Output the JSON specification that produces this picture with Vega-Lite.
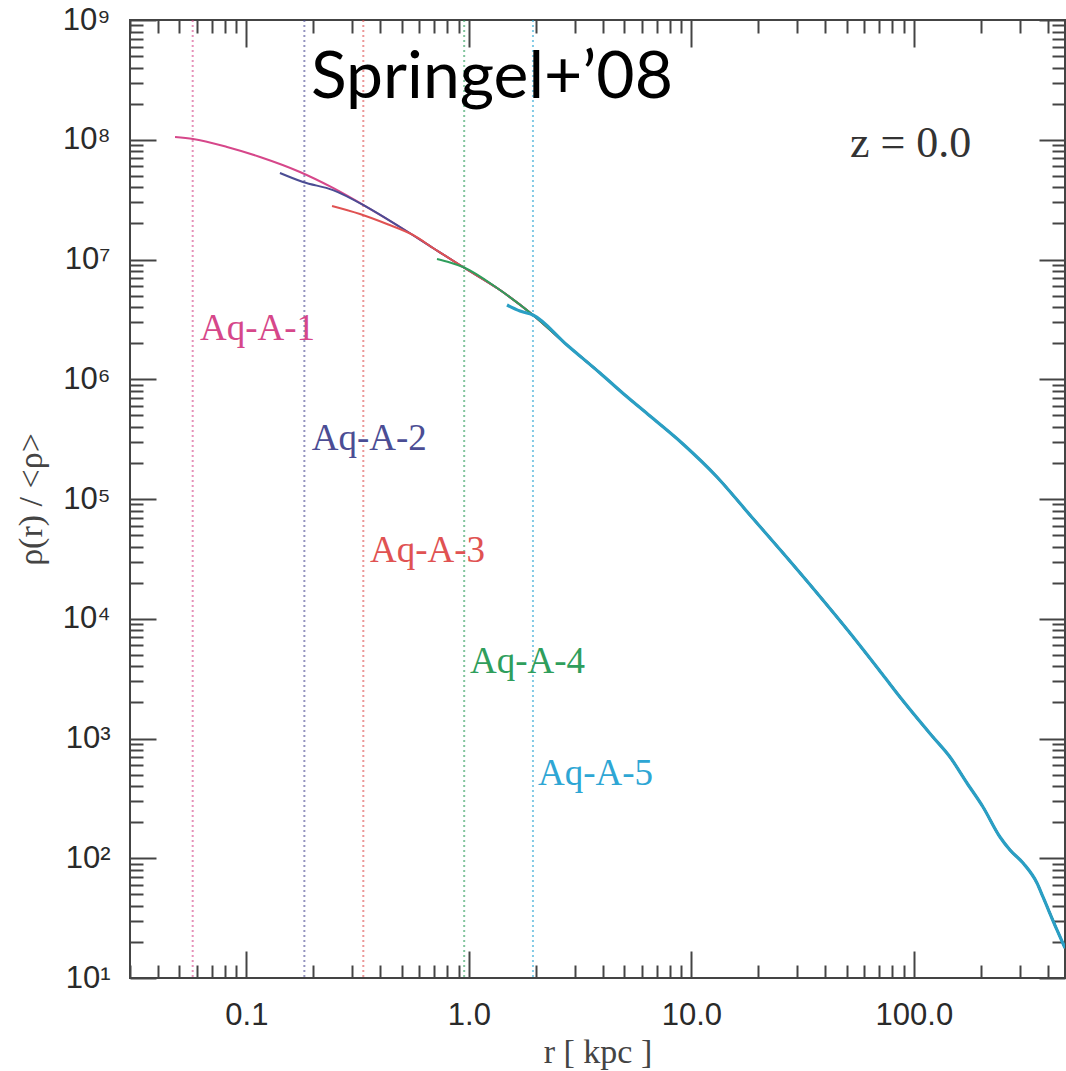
{
  "$schema": "https://vega.github.io/schema/vega-lite/v6.json",
  "width": 935,
  "height": 958,
  "autosize": {"type": "none"},
  "padding": {"left": 130, "top": 20, "right": 1, "bottom": 93},
  "background": "white",
  "config": {"view": {"stroke": "#444", "strokeWidth": 2}},
  "datasets": {
    "profiles": [
      {"series":"Aq-A-1","r":0.0478,"rho":1.054e8},{"series":"Aq-A-1","r":0.0576,"rho":1.015e8},{"series":"Aq-A-1","r":0.0819,"rho":8.70e7},{"series":"Aq-A-1","r":0.1152,"rho":7.18e7},{"series":"Aq-A-1","r":0.1742,"rho":5.38e7},{"series":"Aq-A-1","r":0.2452,"rho":3.96e7},{"series":"Aq-A-1","r":0.3485,"rho":2.74e7},{"series":"Aq-A-1","r":0.4906,"rho":1.868e7},{"series":"Aq-A-1","r":0.690,"rho":1.248e7},{"series":"Aq-A-1","r":0.941,"rho":8.66e6},{"series":"Aq-A-1","r":1.380,"rho":5.56e6},{"series":"Aq-A-1","r":1.942,"rho":3.44e6},{"series":"Aq-A-1","r":2.761,"rho":1.932e6},{"series":"Aq-A-1","r":3.886,"rho":1.127e6},{"series":"Aq-A-1","r":5.03,"rho":7.38e5},{"series":"Aq-A-1","r":6.52,"rho":4.93e5},{"series":"Aq-A-1","r":9.17,"rho":2.88e5},{"series":"Aq-A-1","r":13.04,"rho":1.527e5},{"series":"Aq-A-1","r":18.34,"rho":7.35e4},{"series":"Aq-A-1","r":25.82,"rho":3.54e4},{"series":"Aq-A-1","r":36.71,"rho":1.641e4},{"series":"Aq-A-1","r":51.66,"rho":7600},{"series":"Aq-A-1","r":72.67,"rho":3390},{"series":"Aq-A-1","r":86.65,"rho":2220},{"series":"Aq-A-1","r":121.9,"rho":1029},{"series":"Aq-A-1","r":145.4,"rho":700},{"series":"Aq-A-1","r":173.3,"rho":425},{"series":"Aq-A-1","r":204.6,"rho":268},{"series":"Aq-A-1","r":243.9,"rho":150.5},{"series":"Aq-A-1","r":270.5,"rho":117.2},{"series":"Aq-A-1","r":309.5,"rho":91.3},{"series":"Aq-A-1","r":357.7,"rho":62.1},{"series":"Aq-A-1","r":380.6,"rho":47.5},{"series":"Aq-A-1","r":439.9,"rho":25.2},{"series":"Aq-A-1","r":478,"rho":17.8},
      {"series":"Aq-A-2","r":0.1416,"rho":5.28e7},{"series":"Aq-A-2","r":0.1798,"rho":4.44e7},{"series":"Aq-A-2","r":0.2452,"rho":3.80e7},{"series":"Aq-A-2","r":0.3485,"rho":2.74e7},{"series":"Aq-A-2","r":0.4906,"rho":1.868e7},{"series":"Aq-A-2","r":0.690,"rho":1.248e7},{"series":"Aq-A-2","r":0.941,"rho":8.66e6},{"series":"Aq-A-2","r":1.380,"rho":5.56e6},{"series":"Aq-A-2","r":1.942,"rho":3.44e6},{"series":"Aq-A-2","r":2.761,"rho":1.932e6},{"series":"Aq-A-2","r":3.886,"rho":1.127e6},{"series":"Aq-A-2","r":5.03,"rho":7.38e5},{"series":"Aq-A-2","r":6.52,"rho":4.93e5},{"series":"Aq-A-2","r":9.17,"rho":2.88e5},{"series":"Aq-A-2","r":13.04,"rho":1.527e5},{"series":"Aq-A-2","r":18.34,"rho":7.35e4},{"series":"Aq-A-2","r":25.82,"rho":3.54e4},{"series":"Aq-A-2","r":36.71,"rho":1.641e4},{"series":"Aq-A-2","r":51.66,"rho":7600},{"series":"Aq-A-2","r":72.67,"rho":3390},{"series":"Aq-A-2","r":86.65,"rho":2220},{"series":"Aq-A-2","r":121.9,"rho":1029},{"series":"Aq-A-2","r":145.4,"rho":700},{"series":"Aq-A-2","r":173.3,"rho":425},{"series":"Aq-A-2","r":204.6,"rho":268},{"series":"Aq-A-2","r":243.9,"rho":150.5},{"series":"Aq-A-2","r":270.5,"rho":117.2},{"series":"Aq-A-2","r":309.5,"rho":91.3},{"series":"Aq-A-2","r":357.7,"rho":62.1},{"series":"Aq-A-2","r":380.6,"rho":47.5},{"series":"Aq-A-2","r":439.9,"rho":25.2},{"series":"Aq-A-2","r":478,"rho":17.8},
      {"series":"Aq-A-3","r":0.2427,"rho":2.80e7},{"series":"Aq-A-3","r":0.324,"rho":2.40e7},{"series":"Aq-A-3","r":0.4286,"rho":1.98e7},{"series":"Aq-A-3","r":0.561,"rho":1.602e7},{"series":"Aq-A-3","r":0.690,"rho":1.248e7},{"series":"Aq-A-3","r":0.941,"rho":8.66e6},{"series":"Aq-A-3","r":1.380,"rho":5.56e6},{"series":"Aq-A-3","r":1.942,"rho":3.44e6},{"series":"Aq-A-3","r":2.761,"rho":1.932e6},{"series":"Aq-A-3","r":3.886,"rho":1.127e6},{"series":"Aq-A-3","r":5.03,"rho":7.38e5},{"series":"Aq-A-3","r":6.52,"rho":4.93e5},{"series":"Aq-A-3","r":9.17,"rho":2.88e5},{"series":"Aq-A-3","r":13.04,"rho":1.527e5},{"series":"Aq-A-3","r":18.34,"rho":7.35e4},{"series":"Aq-A-3","r":25.82,"rho":3.54e4},{"series":"Aq-A-3","r":36.71,"rho":1.641e4},{"series":"Aq-A-3","r":51.66,"rho":7600},{"series":"Aq-A-3","r":72.67,"rho":3390},{"series":"Aq-A-3","r":86.65,"rho":2220},{"series":"Aq-A-3","r":121.9,"rho":1029},{"series":"Aq-A-3","r":145.4,"rho":700},{"series":"Aq-A-3","r":173.3,"rho":425},{"series":"Aq-A-3","r":204.6,"rho":268},{"series":"Aq-A-3","r":243.9,"rho":150.5},{"series":"Aq-A-3","r":270.5,"rho":117.2},{"series":"Aq-A-3","r":309.5,"rho":91.3},{"series":"Aq-A-3","r":357.7,"rho":62.1},{"series":"Aq-A-3","r":380.6,"rho":47.5},{"series":"Aq-A-3","r":439.9,"rho":25.2},{"series":"Aq-A-3","r":478,"rho":17.8},
      {"series":"Aq-A-4","r":0.7193,"rho":1.01e7},{"series":"Aq-A-4","r":0.8229,"rho":9.45e6},{"series":"Aq-A-4","r":0.941,"rho":8.66e6},{"series":"Aq-A-4","r":1.380,"rho":5.56e6},{"series":"Aq-A-4","r":1.942,"rho":3.44e6},{"series":"Aq-A-4","r":2.761,"rho":1.932e6},{"series":"Aq-A-4","r":3.886,"rho":1.127e6},{"series":"Aq-A-4","r":5.03,"rho":7.38e5},{"series":"Aq-A-4","r":6.52,"rho":4.93e5},{"series":"Aq-A-4","r":9.17,"rho":2.88e5},{"series":"Aq-A-4","r":13.04,"rho":1.527e5},{"series":"Aq-A-4","r":18.34,"rho":7.35e4},{"series":"Aq-A-4","r":25.82,"rho":3.54e4},{"series":"Aq-A-4","r":36.71,"rho":1.641e4},{"series":"Aq-A-4","r":51.66,"rho":7600},{"series":"Aq-A-4","r":72.67,"rho":3390},{"series":"Aq-A-4","r":86.65,"rho":2220},{"series":"Aq-A-4","r":121.9,"rho":1029},{"series":"Aq-A-4","r":145.4,"rho":700},{"series":"Aq-A-4","r":173.3,"rho":425},{"series":"Aq-A-4","r":204.6,"rho":268},{"series":"Aq-A-4","r":243.9,"rho":150.5},{"series":"Aq-A-4","r":270.5,"rho":117.2},{"series":"Aq-A-4","r":309.5,"rho":91.3},{"series":"Aq-A-4","r":357.7,"rho":62.1},{"series":"Aq-A-4","r":380.6,"rho":47.5},{"series":"Aq-A-4","r":439.9,"rho":25.2},{"series":"Aq-A-4","r":478,"rho":17.8},
      {"series":"Aq-A-5","r":1.484,"rho":4.17e6},{"series":"Aq-A-5","r":1.698,"rho":3.71e6},{"series":"Aq-A-5","r":1.942,"rho":3.44e6},{"series":"Aq-A-5","r":2.761,"rho":1.932e6},{"series":"Aq-A-5","r":3.886,"rho":1.127e6},{"series":"Aq-A-5","r":5.03,"rho":7.38e5},{"series":"Aq-A-5","r":6.52,"rho":4.93e5},{"series":"Aq-A-5","r":9.17,"rho":2.88e5},{"series":"Aq-A-5","r":13.04,"rho":1.527e5},{"series":"Aq-A-5","r":18.34,"rho":7.35e4},{"series":"Aq-A-5","r":25.82,"rho":3.54e4},{"series":"Aq-A-5","r":36.71,"rho":1.641e4},{"series":"Aq-A-5","r":51.66,"rho":7600},{"series":"Aq-A-5","r":72.67,"rho":3390},{"series":"Aq-A-5","r":86.65,"rho":2220},{"series":"Aq-A-5","r":121.9,"rho":1029},{"series":"Aq-A-5","r":145.4,"rho":700},{"series":"Aq-A-5","r":173.3,"rho":425},{"series":"Aq-A-5","r":204.6,"rho":268},{"series":"Aq-A-5","r":243.9,"rho":150.5},{"series":"Aq-A-5","r":270.5,"rho":117.2},{"series":"Aq-A-5","r":309.5,"rho":91.3},{"series":"Aq-A-5","r":357.7,"rho":62.1},{"series":"Aq-A-5","r":380.6,"rho":47.5},{"series":"Aq-A-5","r":439.9,"rho":25.2},{"series":"Aq-A-5","r":478,"rho":17.8}
    ],
    "cuts": [
      {"series":"Aq-A-1","r":0.0574},{"series":"Aq-A-2","r":0.1823},{"series":"Aq-A-3","r":0.3355},{"series":"Aq-A-4","r":0.953},{"series":"Aq-A-5","r":1.942}
    ],
    "labels": [
      {"series":"Aq-A-1","r":0.0619,"rho":2.127e6},
      {"series":"Aq-A-2","r":0.1966,"rho":2.566e5},
      {"series":"Aq-A-3","r":0.3596,"rho":2.977e4},
      {"series":"Aq-A-4","r":1.012,"rho":3524},
      {"series":"Aq-A-5","r":2.046,"rho":409}
    ]
  },
  "resolve": {"axis": {"x": "independent", "y": "independent"}},
  "layer": [
    {
      "data": {"name": "cuts"},
      "mark": {"type": "rule", "strokeWidth": 2, "strokeDash": [2, 3], "opacity": 0.6},
      "encoding": {
        "x": {"field": "r", "type": "quantitative", "scale": {"type": "log", "domain": [0.03, 478], "nice": false}, "axis": null},
        "color": {"field": "series", "type": "nominal", "scale": {"domain": ["Aq-A-1","Aq-A-2","Aq-A-3","Aq-A-4","Aq-A-5"], "range": ["#d6478a","#4b4d94","#e05252","#2f9e5c","#2ea6d4"]}, "legend": null}
      }
    },
    {
      "data": {"name": "profiles"},
      "transform": [{"filter": "datum.series === 'Aq-A-1'"}],
      "mark": {"type": "line", "strokeWidth": 2, "clip": true, "interpolate": "monotone"},
      "encoding": {
        "x": {"field": "r", "type": "quantitative", "scale": {"type": "log", "domain": [0.03, 478], "nice": false},
          "axis": {"orient": "bottom", "values": [0.1, 1, 10, 100], "format": ".1f", "ticks": false, "domain": false, "grid": false, "labelFont": "Liberation Sans", "labelFontSize": 31, "labelColor": "#2a2a2a", "labelPadding": 22, "labelFlush": false, "labelOverlap": false, "title": "r [ kpc ]", "titleFont": "Liberation Serif", "titleFontSize": 34, "titleFontWeight": "normal", "titleColor": "#444", "titlePadding": 5}},
        "y": {"field": "rho", "type": "quantitative", "scale": {"type": "log", "domain": [10, 1e9], "nice": false},
          "axis": {"orient": "left", "values": [10, 100, 1000, 10000, 100000, 1000000, 10000000, 100000000, 1000000000], "labelExpr": "'10' + ['⁰','¹','²','³','⁴','⁵','⁶','⁷','⁸','⁹'][round(log(datum.value)/LN10)]", "ticks": false, "domain": false, "grid": false, "labelFont": "Liberation Sans", "labelFontSize": 31, "labelColor": "#2a2a2a", "labelPadding": 20, "labelFlush": false, "labelOverlap": false, "title": "ρ(r) / <ρ>", "titleFont": "Liberation Serif", "titleFontSize": 34, "titleFontWeight": "normal", "titleColor": "#444", "titlePadding": 14}},
        "color": {"field": "series", "type": "nominal", "legend": null}
      }
    },
    {
      "data": {"name": "profiles"},
      "transform": [{"filter": "datum.series === 'Aq-A-2'"}],
      "mark": {"type": "line", "strokeWidth": 2, "clip": true, "interpolate": "monotone"},
      "encoding": {
        "x": {"field": "r", "type": "quantitative", "scale": {"type": "log", "domain": [0.03, 478], "nice": false},
          "axis": {"orient": "top", "offset": -958, "values": [0.1, 1, 10, 100], "tickSize": 27, "tickWidth": 2, "tickColor": "#444", "labels": false, "domain": false, "grid": false, "title": null}},
        "y": {"field": "rho", "type": "quantitative", "scale": {"type": "log", "domain": [10, 1e9], "nice": false},
          "axis": {"orient": "right", "offset": -935, "values": [10, 100, 1000, 10000, 100000, 1000000, 10000000, 100000000, 1000000000], "tickSize": 26, "tickWidth": 2, "tickColor": "#444", "labels": false, "domain": false, "grid": false, "title": null}},
        "color": {"field": "series", "type": "nominal", "legend": null}
      }
    },
    {
      "data": {"name": "profiles"},
      "transform": [{"filter": "datum.series === 'Aq-A-3'"}],
      "mark": {"type": "line", "strokeWidth": 2, "clip": true, "interpolate": "monotone"},
      "encoding": {
        "x": {"field": "r", "type": "quantitative", "scale": {"type": "log", "domain": [0.03, 478], "nice": false},
          "axis": {"orient": "top", "offset": -958, "values": [0.03,0.04,0.05,0.06,0.07,0.08,0.09,0.2,0.3,0.4,0.5,0.6,0.7,0.8,0.9,2,3,4,5,6,7,8,9,20,30,40,50,60,70,80,90,200,300,400], "tickSize": 13, "tickWidth": 2, "tickColor": "#444", "labels": false, "domain": false, "grid": false, "title": null}},
        "y": {"field": "rho", "type": "quantitative", "scale": {"type": "log", "domain": [10, 1e9], "nice": false},
          "axis": {"orient": "right", "offset": -935, "values": [20,30,40,50,60,70,80,90,200,300,400,500,600,700,800,900,2000,3000,4000,5000,6000,7000,8000,9000,2e4,3e4,4e4,5e4,6e4,7e4,8e4,9e4,2e5,3e5,4e5,5e5,6e5,7e5,8e5,9e5,2e6,3e6,4e6,5e6,6e6,7e6,8e6,9e6,2e7,3e7,4e7,5e7,6e7,7e7,8e7,9e7,2e8,3e8,4e8,5e8,6e8,7e8,8e8,9e8], "tickSize": 13, "tickWidth": 2, "tickColor": "#444", "labels": false, "domain": false, "grid": false, "title": null}},
        "color": {"field": "series", "type": "nominal", "legend": null}
      }
    },
    {
      "data": {"name": "profiles"},
      "transform": [{"filter": "datum.series === 'Aq-A-4'"}],
      "mark": {"type": "line", "strokeWidth": 2, "clip": true, "interpolate": "monotone"},
      "encoding": {
        "x": {"field": "r", "type": "quantitative", "scale": {"type": "log", "domain": [0.03, 478], "nice": false},
          "axis": {"orient": "bottom", "offset": -958, "values": [0.1, 1, 10, 100], "tickSize": 27, "tickWidth": 2, "tickColor": "#444", "labels": false, "domain": false, "grid": false, "title": null}},
        "y": {"field": "rho", "type": "quantitative", "scale": {"type": "log", "domain": [10, 1e9], "nice": false},
          "axis": {"orient": "left", "offset": -935, "values": [10, 100, 1000, 10000, 100000, 1000000, 10000000, 100000000, 1000000000], "tickSize": 26, "tickWidth": 2, "tickColor": "#444", "labels": false, "domain": false, "grid": false, "title": null}},
        "color": {"field": "series", "type": "nominal", "legend": null}
      }
    },
    {
      "data": {"name": "profiles"},
      "transform": [{"filter": "datum.series === 'Aq-A-5'"}],
      "mark": {"type": "line", "strokeWidth": 3.2, "clip": true, "interpolate": "monotone", "color": "#2a9fc4"},
      "encoding": {
        "x": {"field": "r", "type": "quantitative", "scale": {"type": "log", "domain": [0.03, 478], "nice": false},
          "axis": {"orient": "bottom", "offset": -958, "values": [0.03,0.04,0.05,0.06,0.07,0.08,0.09,0.2,0.3,0.4,0.5,0.6,0.7,0.8,0.9,2,3,4,5,6,7,8,9,20,30,40,50,60,70,80,90,200,300,400], "tickSize": 13, "tickWidth": 2, "tickColor": "#444", "labels": false, "domain": false, "grid": false, "title": null}},
        "y": {"field": "rho", "type": "quantitative", "scale": {"type": "log", "domain": [10, 1e9], "nice": false},
          "axis": {"orient": "left", "offset": -935, "values": [20,30,40,50,60,70,80,90,200,300,400,500,600,700,800,900,2000,3000,4000,5000,6000,7000,8000,9000,2e4,3e4,4e4,5e4,6e4,7e4,8e4,9e4,2e5,3e5,4e5,5e5,6e5,7e5,8e5,9e5,2e6,3e6,4e6,5e6,6e6,7e6,8e6,9e6,2e7,3e7,4e7,5e7,6e7,7e7,8e7,9e7,2e8,3e8,4e8,5e8,6e8,7e8,8e8,9e8], "tickSize": 13, "tickWidth": 2, "tickColor": "#444", "labels": false, "domain": false, "grid": false, "title": null}}
      }
    },
    {
      "data": {"name": "labels"},
      "mark": {"type": "text", "align": "left", "baseline": "alphabetic", "font": "Liberation Serif", "fontSize": 37},
      "encoding": {
        "x": {"field": "r", "type": "quantitative", "scale": {"type": "log", "domain": [0.03, 478], "nice": false}, "axis": null},
        "y": {"field": "rho", "type": "quantitative", "scale": {"type": "log", "domain": [10, 1e9], "nice": false}, "axis": null},
        "text": {"field": "series"},
        "color": {"field": "series", "type": "nominal", "legend": null}
      }
    },
    {
      "data": {"values": [{"note": "Springel+’08", "r": 0.1953, "rho": 2.234e8}]},
      "mark": {"type": "text", "align": "left", "baseline": "alphabetic", "font": "Lato", "fontSize": 66, "color": "#000"},
      "encoding": {
        "x": {"field": "r", "type": "quantitative", "scale": {"type": "log", "domain": [0.03, 478], "nice": false}, "axis": null},
        "y": {"field": "rho", "type": "quantitative", "scale": {"type": "log", "domain": [10, 1e9], "nice": false}, "axis": null},
        "text": {"field": "note"}
      }
    },
    {
      "data": {"values": [{"note": "z = 0.0", "r": 51.66, "rho": 7.21e7}]},
      "mark": {"type": "text", "align": "left", "baseline": "alphabetic", "font": "Liberation Serif", "fontSize": 44, "color": "#333"},
      "encoding": {
        "x": {"field": "r", "type": "quantitative", "scale": {"type": "log", "domain": [0.03, 478], "nice": false}, "axis": null},
        "y": {"field": "rho", "type": "quantitative", "scale": {"type": "log", "domain": [10, 1e9], "nice": false}, "axis": null},
        "text": {"field": "note"}
      }
    }
  ]
}
